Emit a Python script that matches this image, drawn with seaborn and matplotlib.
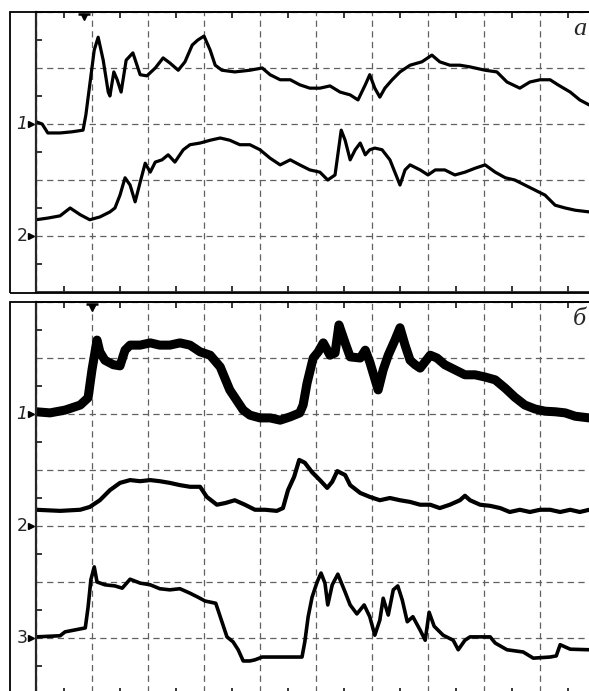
import numpy as np
import pandas as pd
import matplotlib
matplotlib.use("Agg")
import matplotlib.pyplot as plt
from matplotlib.patches import Rectangle
import seaborn as sns

# ---------------- data (time / amplitude in grid divisions) ----------------
# panel a, trace 1
a1_t = [0.00, 0.11, 0.21, 0.43, 0.64, 0.84, 0.89, 0.96, 1.04, 1.11, 1.20, 1.29, 1.32, 1.39,
        1.45, 1.52, 1.61, 1.73, 1.86, 1.98, 2.13, 2.27, 2.39, 2.54, 2.66, 2.79, 2.89, 3.00,
        3.11, 3.20, 3.32, 3.55, 3.82, 4.04, 4.18, 4.36, 4.54, 4.71, 4.89, 5.07, 5.25, 5.43,
        5.61, 5.75, 5.88, 5.96, 6.05, 6.14, 6.23, 6.36, 6.50, 6.68, 6.89, 7.07, 7.21, 7.39,
        7.57, 7.75, 8.02, 8.23, 8.41, 8.64, 8.82, 9.00, 9.18, 9.32, 9.54, 9.71, 9.88]
a1_v = [3.04, 3.00, 2.84, 2.84, 2.86, 2.89, 3.16, 3.70, 4.32, 4.55, 4.14, 3.57, 3.50, 3.93,
        3.79, 3.57, 4.14, 4.27, 3.88, 3.86, 4.00, 4.18, 4.09, 3.96, 4.11, 4.41, 4.50, 4.57,
        4.32, 4.05, 3.96, 3.93, 3.96, 4.00, 3.88, 3.79, 3.79, 3.70, 3.64, 3.64, 3.68, 3.57,
        3.52, 3.43, 3.70, 3.88, 3.64, 3.48, 3.64, 3.79, 3.93, 4.05, 4.11, 4.23, 4.11, 4.05,
        4.05, 4.02, 3.96, 3.93, 3.75, 3.64, 3.75, 3.79, 3.79, 3.70, 3.57, 3.43, 3.34]

# panel a, trace 2
a2_t = [0.00, 0.21, 0.43, 0.61, 0.79, 0.96, 1.14, 1.32, 1.41, 1.50, 1.59, 1.68, 1.77, 1.86,
        1.95, 2.04, 2.13, 2.25, 2.36, 2.48, 2.63, 2.75, 2.93, 3.11, 3.29, 3.46, 3.64, 3.82,
        4.00, 4.18, 4.36, 4.54, 4.71, 4.89, 5.07, 5.21, 5.34, 5.45, 5.52, 5.61, 5.70, 5.79,
        5.88, 5.96, 6.05, 6.18, 6.32, 6.50, 6.59, 6.68, 6.86, 7.00, 7.13, 7.30, 7.48, 7.66,
        7.84, 8.02, 8.20, 8.38, 8.55, 8.73, 8.91, 9.09, 9.27, 9.45, 9.63, 9.88]
a2_v = [1.29, 1.32, 1.36, 1.50, 1.38, 1.29, 1.34, 1.43, 1.50, 1.73, 2.04, 1.91, 1.61, 1.96,
        2.30, 2.14, 2.32, 2.36, 2.45, 2.32, 2.54, 2.63, 2.66, 2.71, 2.75, 2.71, 2.63, 2.63,
        2.54, 2.39, 2.27, 2.36, 2.27, 2.18, 2.14, 2.00, 2.09, 2.89, 2.71, 2.36, 2.54, 2.66,
        2.45, 2.54, 2.57, 2.54, 2.36, 1.91, 2.18, 2.27, 2.18, 2.09, 2.18, 2.18, 2.09, 2.14,
        2.21, 2.27, 2.14, 2.04, 2.00, 1.91, 1.82, 1.73, 1.55, 1.50, 1.46, 1.43]

# panel б, trace 1
b1_t = [0.00, 0.25, 0.52, 0.79, 0.93, 1.00, 1.09, 1.14, 1.23, 1.38, 1.50, 1.59, 1.68, 1.86,
        2.04, 2.21, 2.39, 2.57, 2.75, 2.93, 3.11, 3.29, 3.46, 3.70, 3.82, 4.00, 4.18, 4.36,
        4.54, 4.71, 4.77, 4.84, 4.95, 5.04, 5.13, 5.25, 5.34, 5.41, 5.52, 5.61, 5.79, 5.88,
        5.96, 6.11, 6.20, 6.29, 6.41, 6.50, 6.59, 6.68, 6.77, 6.86, 7.04, 7.16, 7.30, 7.48,
        7.66, 7.84, 8.02, 8.20, 8.38, 8.55, 8.73, 8.91, 9.09, 9.27, 9.45, 9.63, 9.88]
b1_v = [5.04, 5.02, 5.07, 5.16, 5.29, 5.79, 6.32, 6.11, 5.96, 5.88, 5.86, 6.14, 6.23, 6.23,
        6.27, 6.23, 6.23, 6.27, 6.23, 6.11, 6.05, 5.84, 5.43, 5.07, 4.98, 4.93, 4.93, 4.89,
        4.95, 5.02, 5.16, 5.55, 6.00, 6.11, 6.27, 6.05, 6.09, 6.59, 6.27, 6.02, 6.00, 6.14,
        5.93, 5.43, 5.79, 6.05, 6.32, 6.54, 6.23, 5.96, 5.88, 5.82, 6.05, 6.00, 5.88, 5.79,
        5.70, 5.70, 5.66, 5.61, 5.46, 5.30, 5.16, 5.09, 5.05, 5.04, 5.02, 4.96, 4.93]

# panel б, trace 2
b2_t = [0.00, 0.43, 0.79, 0.96, 1.14, 1.32, 1.50, 1.68, 1.86, 2.04, 2.21, 2.39, 2.57, 2.75,
        2.93, 3.05, 3.23, 3.38, 3.55, 3.73, 3.91, 4.09, 4.30, 4.41, 4.50, 4.61, 4.70, 4.80,
        4.93, 5.07, 5.20, 5.29, 5.38, 5.52, 5.61, 5.79, 5.96, 6.14, 6.32, 6.50, 6.68, 6.86,
        7.04, 7.21, 7.39, 7.57, 7.66, 7.75, 7.93, 8.11, 8.29, 8.46, 8.64, 8.82, 9.00, 9.18,
        9.36, 9.54, 9.71, 9.88]
b2_v = [3.29, 3.27, 3.29, 3.34, 3.46, 3.64, 3.77, 3.82, 3.80, 3.82, 3.80, 3.77, 3.73, 3.70,
        3.70, 3.52, 3.38, 3.41, 3.46, 3.38, 3.29, 3.29, 3.27, 3.32, 3.64, 3.88, 4.18, 4.13,
        3.96, 3.82, 3.68, 3.79, 3.98, 3.91, 3.73, 3.59, 3.52, 3.46, 3.50, 3.46, 3.43, 3.38,
        3.38, 3.32, 3.38, 3.46, 3.54, 3.46, 3.38, 3.36, 3.32, 3.25, 3.29, 3.25, 3.29, 3.29,
        3.25, 3.29, 3.25, 3.29]

# panel б, trace 3
b3_t = [0.00, 0.43, 0.52, 0.88, 0.93, 0.98, 1.04, 1.09, 1.23, 1.41, 1.54, 1.68, 1.86, 2.04,
        2.21, 2.39, 2.57, 2.75, 2.89, 3.02, 3.21, 3.32, 3.41, 3.52, 3.61, 3.70, 3.82, 3.91,
        4.04, 4.36, 4.75, 4.80, 4.86, 4.93, 5.02, 5.09, 5.16, 5.21, 5.29, 5.39, 5.52, 5.61,
        5.73, 5.86, 5.96, 6.05, 6.14, 6.20, 6.29, 6.38, 6.46, 6.54, 6.63, 6.73, 6.86, 6.95,
        7.02, 7.11, 7.27, 7.45, 7.54, 7.66, 7.75, 8.11, 8.20, 8.41, 8.70, 8.88, 9.18, 9.29,
        9.36, 9.54, 9.88]
b3_v = [1.02, 1.04, 1.11, 1.18, 1.55, 2.04, 2.27, 2.00, 1.95, 1.93, 1.89, 2.05, 1.98, 1.95,
        1.88, 1.86, 1.88, 1.80, 1.73, 1.66, 1.62, 1.29, 1.02, 0.93, 0.79, 0.59, 0.59, 0.61,
        0.66, 0.66, 0.66, 0.93, 1.38, 1.73, 2.00, 2.16, 1.98, 1.59, 1.95, 2.14, 1.82, 1.59,
        1.43, 1.59, 1.38, 1.05, 1.32, 1.71, 1.41, 1.86, 1.93, 1.68, 1.29, 1.38, 1.14, 0.96,
        1.46, 1.21, 1.05, 0.96, 0.79, 0.96, 1.02, 1.02, 0.91, 0.79, 0.75, 0.64, 0.66, 0.68,
        0.88, 0.80, 0.79]

trace_labels_a = ["1", "2"]
trace_levels_a = [3, 1]
trace_labels_b = ["1", "2", "3"]
trace_levels_b = [5, 3, 1]

W, H = 589, 691
X_MAX = (590 - 36) / 56

sns.set_style("white")
plt.rcParams['font.family'] = ['DejaVu Sans']

fig = plt.figure(figsize=(W / 100, H / 100), dpi=100)
ax_a = fig.add_axes([36 / W, 1 - 292 / H, (590 - 36) / W, 280 / H])
ax_b = fig.add_axes([36 / W, 1 - 694 / H, (590 - 36) / W, 392 / H])

# outer frames around each panel
for top, bot in [(12, 293), (302, 700)]:
    fig.patches.append(Rectangle((10 / W, 1 - bot / H), (600 - 10) / W, (bot - top) / H,
                                 fill=False, lw=1.3, ec='black', transform=fig.transFigure))


def style_axis(ax, y_max):
    ax.set_xlim(0, X_MAX)
    ax.set_ylim(0, y_max)
    ax.set_xticks(np.arange(0, 10, 1))
    ax.set_yticks(np.arange(0, y_max + 1, 1))
    ax.set_xticks(np.arange(0.5, 10, 1), minor=True)
    ax.set_yticks(np.arange(0.5, y_max, 1), minor=True)
    ax.set_xticklabels([])
    ax.set_yticklabels([])
    ax.tick_params(which='major', length=0)
    ax.tick_params(which='minor', direction='in', length=4, width=1.3,
                   top=True, bottom=True, left=True, right=False)
    ax.grid(True, which='major', linestyle=(0, (5, 3.5)), color='#606060', linewidth=0.9)
    ax.set_xlabel("")
    ax.set_ylabel("")
    for side in ['top', 'bottom']:
        ax.spines[side].set_linewidth(1.3)
    ax.spines['left'].set_linewidth(1.6)
    ax.spines['right'].set_visible(False)


def draw_trace(ax, t, v, lw):
    df = pd.DataFrame({"t": t, "v": v})
    sns.lineplot(data=df, x="t", y="v", ax=ax, color='black', linewidth=lw,
                 estimator=None, sort=False, solid_joinstyle='round')


draw_trace(ax_a, a1_t, a1_v, 2.3)
draw_trace(ax_a, a2_t, a2_v, 2.3)
draw_trace(ax_b, b1_t, b1_v, 6.5)
draw_trace(ax_b, b2_t, b2_v, 3.0)
draw_trace(ax_b, b3_t, b3_v, 2.6)

style_axis(ax_a, 5)
style_axis(ax_b, 7)

# trace labels with arrows on the left
for ax, labels, levels in [(ax_a, trace_labels_a, trace_levels_a),
                           (ax_b, trace_labels_b, trace_levels_b)]:
    for lab, lev in zip(labels, levels):
        ax.text(-0.25, lev, lab, ha='center', va='center', fontsize=12.5,
                style='italic' if lab == "1" else 'normal')
        ax.plot([-0.09], [lev], marker='>', color='black', markersize=5, clip_on=False)

# stimulus markers at the top
ax_a.plot([0.86], [4.91], marker='v', color='black', markersize=5, clip_on=False)
ax_a.plot([0.86], [4.97], marker='_', color='black', markersize=8, mew=1.8, clip_on=False)
ax_b.plot([1.0], [6.90], marker='v', color='black', markersize=5, clip_on=False)
ax_b.plot([1.0], [6.96], marker='_', color='black', markersize=8, mew=1.8, clip_on=False)

# panel letters
ax_a.text(9.83, 4.7, "a", ha='right', va='center', fontsize=19, style='italic',
          family='Liberation Serif')
ax_b.text(9.83, 6.7, "б", ha='right', va='center', fontsize=19, style='italic',
          family='Liberation Serif')

fig.savefig("out.png", dpi=100)
